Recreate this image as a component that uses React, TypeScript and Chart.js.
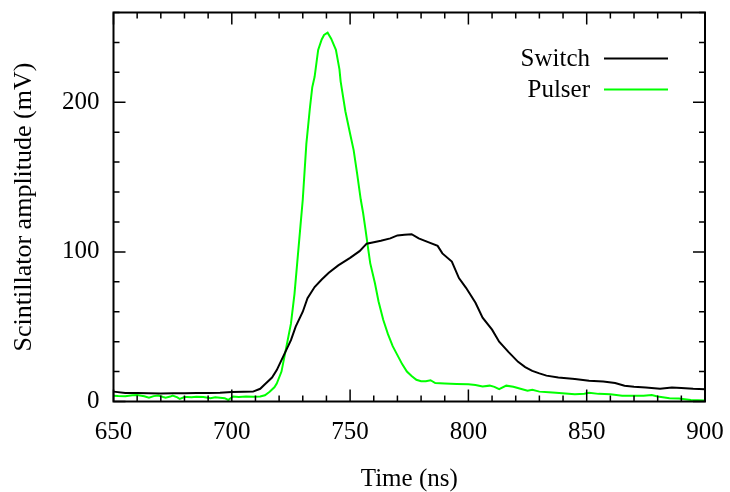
import React, { useEffect, useRef } from "react";
import { Chart, registerables } from "chart.js";

Chart.register(...registerables);

const SWITCH_T = [650, 655, 660, 665, 670, 675, 680, 685, 690, 695, 700, 705, 709, 712, 714, 717, 719, 722, 725, 727, 730, 732, 735, 738, 741, 745, 750, 754, 757, 760, 763, 767, 770, 773, 776, 779, 783, 787, 789, 793, 796, 799, 803, 806, 810, 813, 817, 821, 824, 827, 830, 833, 838, 845, 851, 857, 862, 866, 870, 875, 881, 886, 890, 895, 900];
const SWITCH_V = [6.6, 5.7, 5.6, 5.5, 5.4, 5.5, 5.5, 5.6, 5.7, 5.9, 6.3, 6.5, 6.6, 8.5, 11.5, 16, 21, 31, 41, 50, 60, 69, 76.5, 81.5, 86, 91, 96, 100.5, 105.5, 106.5, 107.5, 109, 111, 111.5, 111.8, 109, 106.5, 104, 99, 93.5, 82.5, 76, 66, 56, 48, 40, 33, 26.5, 23, 20.5, 18.8, 17.3, 16, 15, 13.8, 13.3, 12.3, 10.5, 9.8, 9.3, 8.6, 9.3, 9, 8.5, 8.2];

const PULSER_T = [650, 652, 655, 658, 660, 663, 665, 667, 669, 671, 672, 674, 675, 677, 678, 680, 681, 683, 685, 688, 691, 693, 695, 697, 698.5, 700.5, 703, 706, 709, 712, 714, 716, 718, 719, 721, 722.5, 724, 725, 726.5, 727.5, 729, 730, 731.5, 733, 734, 735, 736.5, 738, 739, 740.5, 742, 744, 745.5, 746, 746.5, 748, 750, 751.5, 753, 754.5, 755.5, 756.5, 757.5, 758.5, 760.5, 762, 764, 766, 768, 770, 772, 774, 776, 778, 780, 782, 784, 786, 790, 795, 800, 803, 806, 809, 811, 813, 816, 819, 822, 825, 827, 830, 834, 837, 841, 845, 849, 851, 855, 860, 865, 870, 874, 877.5, 880, 885, 889, 894, 897, 900];
const PULSER_V = [3.9, 3.6, 3.5, 4.2, 4.4, 3.5, 2.6, 3.6, 4.0, 3.0, 2.6, 3.3, 4.0, 2.8, 1.7, 3.0, 3.0, 2.8, 3.2, 3.0, 2.2, 2.8, 2.5, 2.2, 1.0, 3.4, 3.0, 3.4, 3.2, 3.3, 4.2, 6.5, 9.5, 12, 20, 32, 44, 52, 72, 90, 117, 135, 172, 196, 210, 217, 235, 242, 245, 246.5, 242.5, 235, 222, 214, 209, 194, 179, 168, 152, 135, 126, 115, 103.5, 92.5, 79, 67, 54.6, 45, 37, 31, 25, 20, 17, 14.5, 13.5, 13.5, 14.2, 12.3, 12, 11.7, 11.5, 11, 10, 10.6, 9.8, 8.2, 10.6, 9.9, 8.5, 7.2, 7.8, 6.6, 6.2, 5.9, 5.4, 4.8, 5.2, 5.9, 5.1, 4.8, 3.9, 3.9, 3.9, 4.4, 3.3, 2.2, 2.0, 1.0, 0.9, 0.6];

const SERIES_LABELS = ["Switch", "Pulser"];
const SERIES_COLORS = ["#000000", "#00ff00"];

const X_MIN = 650;
const X_MAX = 900;
const Y_MIN = 0;
const Y_MAX = 260;
const X_TICKS = [650, 700, 750, 800, 850, 900];
const Y_TICKS = [0, 100, 200];
const X_MINOR_STEP = 10;
const Y_MINOR_STEP = 20;
const X_TITLE = "Time (ns)";
const Y_TITLE = "Scintillator amplitude (mV)";

const FONT_FAMILY = "'Liberation Serif', 'Times New Roman', serif";
const FONT_SIZE = 25;

const frameTicksPlugin = {
  id: "frameTicks",
  afterDatasetsDraw(chart: any) {
    const { ctx, chartArea } = chart;
    const xs = chart.scales.x;
    const ys = chart.scales.y;
    const { left, right, top, bottom } = chartArea;
    ctx.save();
    ctx.strokeStyle = "#000";
    ctx.lineCap = "butt";
    ctx.lineWidth = 1.5;
    ctx.beginPath();
    for (let v = X_MIN; v <= X_MAX + 1e-9; v += X_MINOR_STEP) {
      const px = xs.getPixelForValue(v);
      const len = X_TICKS.includes(v) ? 12 : 6;
      ctx.moveTo(px, bottom);
      ctx.lineTo(px, bottom - len);
      ctx.moveTo(px, top);
      ctx.lineTo(px, top + len);
    }
    for (let v = Y_MIN; v <= Y_MAX + 1e-9; v += Y_MINOR_STEP) {
      const py = ys.getPixelForValue(v);
      const len = Y_TICKS.includes(v) ? 12 : 6;
      ctx.moveTo(left, py);
      ctx.lineTo(left + len, py);
      ctx.moveTo(right, py);
      ctx.lineTo(right - len, py);
    }
    ctx.stroke();
    ctx.lineWidth = 2;
    ctx.strokeRect(left, top, right - left, bottom - top);

    // gnuplot-style key
    ctx.font = `${FONT_SIZE}px ${FONT_FAMILY}`;
    ctx.textAlign = "right";
    ctx.textBaseline = "middle";
    ctx.fillStyle = "#000";
    chart.data.datasets.forEach((ds: any, i: number) => {
      const y = top + 46 + i * 31;
      ctx.fillText(ds.label, right - 115, y + 1);
      ctx.beginPath();
      ctx.strokeStyle = ds.borderColor;
      ctx.lineWidth = 2;
      ctx.moveTo(right - 101, y);
      ctx.lineTo(right - 37, y);
      ctx.stroke();
    });
    ctx.restore();
  },
};

export default function App() {
  const canvasRef = useRef<HTMLCanvasElement | null>(null);

  useEffect(() => {
    const canvas = canvasRef.current;
    if (!canvas) return;
    Chart.defaults.color = "#000";
    const toPoints = (t: number[], v: number[]) => t.map((x, i) => ({ x, y: v[i] }));
    const chart = new Chart(canvas, {
      type: "line",
      data: {
        datasets: [
          {
            label: SERIES_LABELS[0],
            data: toPoints(SWITCH_T, SWITCH_V),
            borderColor: SERIES_COLORS[0],
            backgroundColor: SERIES_COLORS[0],
            borderWidth: 2,
            pointRadius: 0,
            tension: 0,
            fill: false,
          },
          {
            label: SERIES_LABELS[1],
            data: toPoints(PULSER_T, PULSER_V),
            borderColor: SERIES_COLORS[1],
            backgroundColor: SERIES_COLORS[1],
            borderWidth: 2,
            pointRadius: 0,
            tension: 0,
            fill: false,
          },
        ],
      },
      options: {
        animation: false,
        responsive: false,
        maintainAspectRatio: false,
        layout: { padding: { left: 0, right: 25, top: 12.5, bottom: 0 } },
        plugins: {
          legend: { display: false },
          tooltip: { enabled: false },
        },
        scales: {
          x: {
            type: "linear",
            min: X_MIN,
            max: X_MAX,
            grid: { display: false, drawTicks: false },
            border: { display: false },
            afterBuildTicks: (scale: any) => {
              scale.ticks = X_TICKS.map((value) => ({ value }));
            },
            afterFit: (scale: any) => {
              scale.height = 90.5;
              scale.paddingLeft = 0;
              scale.paddingRight = 0;
            },
            ticks: {
              autoSkip: false,
              maxRotation: 0,
              padding: 16,
              color: "#000",
              font: { family: FONT_FAMILY, size: FONT_SIZE },
              callback: (v: any) => String(v),
            },
            title: {
              display: true,
              text: X_TITLE,
              color: "#000",
              font: { family: FONT_FAMILY, size: FONT_SIZE, lineHeight: 1 },
              padding: { top: 0, bottom: 0 },
            },
          },
          y: {
            type: "linear",
            min: Y_MIN,
            max: Y_MAX,
            grid: { display: false, drawTicks: false },
            border: { display: false },
            afterBuildTicks: (scale: any) => {
              scale.ticks = Y_TICKS.map((value) => ({ value }));
            },
            afterFit: (scale: any) => {
              scale.width = 113.5;
              scale.paddingTop = 0;
              scale.paddingBottom = 0;
            },
            ticks: {
              padding: 14,
              color: "#000",
              font: { family: FONT_FAMILY, size: FONT_SIZE },
              callback: (v: any) => String(v),
            },
            title: {
              display: true,
              text: Y_TITLE,
              color: "#000",
              font: { family: FONT_FAMILY, size: 26, lineHeight: 1 },
              padding: { top: 11.3, bottom: 0 },
            },
          },
        },
      },
      plugins: [frameTicksPlugin],
    });
    return () => chart.destroy();
  }, []);

  return (
    <div style={{ position: "fixed", left: 0, top: 0, width: 730, height: 492, background: "#fff" }}>
      <canvas ref={canvasRef} width={730} height={492} style={{ display: "block" }} />
    </div>
  );
}
